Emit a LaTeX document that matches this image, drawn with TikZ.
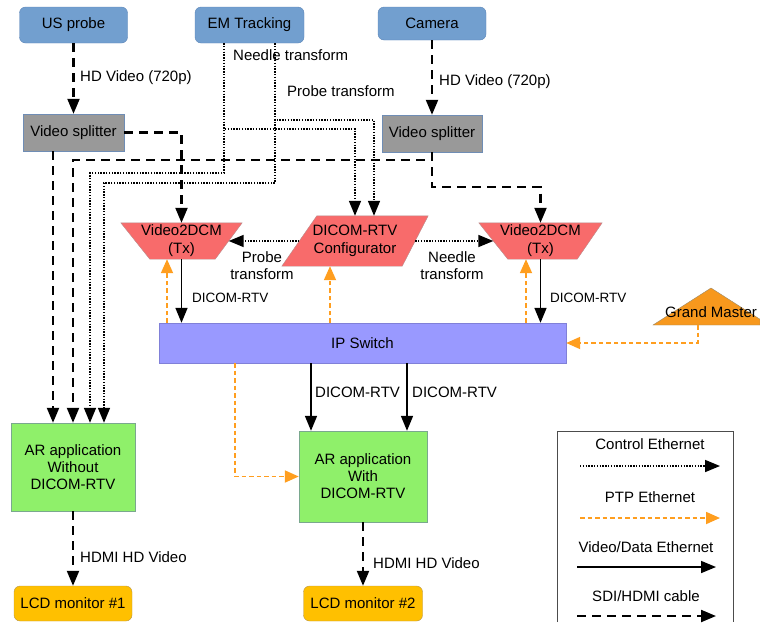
\documentclass[tikz,border=0pt]{standalone}
\usepackage{fontspec}
\setmainfont{Liberation Sans}
\usetikzlibrary{arrows.meta,backgrounds,calc}
\definecolor{srcfill}{HTML}{729FCF}
\definecolor{srcline}{HTML}{5D86B8}
\definecolor{grayfill}{HTML}{999999}
\definecolor{grayline}{HTML}{6F8DB5}
\definecolor{redfill}{HTML}{F86B6B}
\definecolor{redline}{HTML}{B88C8C}
\definecolor{ipfill}{HTML}{9999FF}
\definecolor{ipline}{HTML}{8080D8}
\definecolor{greenfill}{HTML}{8FF06A}
\definecolor{greenline}{HTML}{7AA88E}
\definecolor{lcdfill}{HTML}{FFC000}
\definecolor{lcdline}{HTML}{B8964A}
\definecolor{gmfill}{HTML}{F7981D}
\definecolor{gmline}{HTML}{9A8A6A}
\definecolor{ptp}{HTML}{FF9E1F}
\begin{document}
\begin{tikzpicture}[x=1pt,y=-1pt,
  font=\fontsize{15}{17}\selectfont,
  tip/.style={-{Triangle[length=15pt,width=12pt]}},
  hdmi/.style={tip,draw=black,line width=2.2pt,dash pattern=on 9pt off 6pt},
  ctrl/.style={tip,draw=black,line width=1.6pt,dash pattern=on 1.4pt off 1.4pt},
  ptpline/.style={-{Triangle[length=14pt,width=12pt,fill=ptp]},draw=ptp,line width=1.8pt,dash pattern=on 4.5pt off 3pt},
  vid/.style={tip,draw=black,line width=1.6pt},
  srcbox/.style={draw=srcline,fill=srcfill,rounded corners=6pt,inner sep=0pt,minimum width=108pt,minimum height=36pt},
  splitbox/.style={draw=grayline,fill=grayfill,inner sep=0pt,minimum width=101pt,minimum height=37pt},
  appbox/.style={draw=greenline,fill=greenfill,inner sep=0pt,align=center},
  lcdbox/.style={draw=lcdline,fill=lcdfill,rounded corners=6pt,inner sep=0pt,minimum width=118pt,minimum height=35pt},
  shapetxt/.style={inner sep=0pt,align=center,font=\fontsize{15}{18}\selectfont},
  polyred/.style={draw=redline,fill=redfill},
  lbl/.style={inner sep=0pt,anchor=west},
  smalllbl/.style={inner sep=0pt,anchor=west,font=\fontsize{13.5}{16}\selectfont},
  legtxt/.style={inner sep=0pt}
]
\useasboundingbox (0,0) rectangle (760,622);

% sources
\node[srcbox] (us) at (73.5,25) {US probe};
\node[srcbox,minimum width=109pt] (em) at (249.5,25) {EM Tracking};
\node[srcbox,minimum height=33pt] (cam) at (432,23.5) {Camera};

% splitters
\node[splitbox] (sp1) at (73.5,132.5) {Video splitter};
\node[splitbox,minimum width=100pt] (sp2) at (432,133.5) {Video splitter};

% Video2DCM and configurator
\node[shapetxt,minimum width=121pt,minimum height=36pt] (v2l) at (181.5,241) {Video2DCM\\(Tx)};
\node[shapetxt,minimum width=123pt,minimum height=36pt] (v2r) at (540.5,241) {Video2DCM\\(Tx)};
\node[shapetxt,minimum width=146pt,minimum height=50pt] (cfg) at (355,241) {DICOM-RTV\\Configurator};
\begin{scope}[on background layer]
  \draw[polyred] (v2l.north west) -- (v2l.north east) -- ([xshift=-27pt]v2l.south east) -- ([xshift=29pt]v2l.south west) -- cycle;
  \draw[polyred] (v2r.north west) -- (v2r.north east) -- ([xshift=-25pt]v2r.south east) -- ([xshift=29pt]v2r.south west) -- cycle;
  \draw[polyred] ([xshift=35pt]cfg.north west) -- (cfg.north east) -- ([xshift=-26pt]cfg.south east) -- (cfg.south west) -- cycle;
\end{scope}

% IP switch
\node[draw=ipline,fill=ipfill,inner sep=0pt,minimum width=407pt,minimum height=40pt] (ip) at (362.5,343) {IP Switch};

% Grand master
\fill[gmfill,draw=gmline] (653,325) -- (711,288) -- (760,319.3) -- (760,325) -- cycle;
\node[inner sep=0pt,minimum height=26pt] (gm) at (711,312) {Grand Master};

% AR applications
\node[appbox,minimum width=124pt,minimum height=88pt] (ar1) at (73,467) {AR application\\Without\\DICOM-RTV};
\node[appbox,minimum width=128pt,minimum height=91pt] (ar2) at (363,476.5) {AR application\\With\\DICOM-RTV};

% LCD monitors
\node[lcdbox] (lcd1) at (73,603.5) {LCD monitor \#1};
\node[lcdbox,minimum width=119pt] (lcd2) at (363,603.5) {LCD monitor \#2};

% helper coordinates
\coordinate (emN) at ([xshift=-25.5pt]em.south);
\coordinate (emP) at ([xshift=25.5pt]em.south);
\coordinate (a1) at ([xshift=-20pt]ar1.north);
\coordinate (a2) at (ar1.north);
\coordinate (a3) at ([xshift=17pt]ar1.north);
\coordinate (a4) at ([xshift=31pt]ar1.north);
\coordinate (cfgN2) at ([xshift=19pt]cfg.north);
\coordinate (b1) at ([xshift=-52pt]ar2.north);
\coordinate (b2) at ([xshift=44pt]ar2.north);
\coordinate (pA) at ([xshift=-14.5pt]v2l.south);
\coordinate (pB) at ([xshift=-25pt]cfg.south);
\coordinate (pR) at ([xshift=-14.5pt]v2r.south);
\coordinate (pC) at (235,0);
\coordinate (gmb) at ([xshift=-13pt]gm.south);

% video cables
\draw[hdmi] (us.south) -- (sp1.north);
\draw[hdmi] (cam.south) -- (sp2.north);
\draw[hdmi] (sp1.east) -| (v2l.north);
\draw[hdmi] (sp1.south -| a1) -- (a1);
\draw[hdmi] (sp2.south) |- (a2 |- 0,160) -- (a2);
\draw[hdmi] (sp2.south) |- (v2r.north |- 0,187) -- (v2r.north);
\draw[hdmi] (ar1.south) -- (lcd1.north);
\draw[hdmi] (ar2.south) -- (lcd2.north);

% control
\draw[ctrl] (emN) |- (cfg.north |- 0,129) -- (cfg.north);
\draw[ctrl] (emP) |- (cfgN2 |- 0,120) -- (cfgN2);
\draw[ctrl] (emN) |- (a3 |- 0,173) -- (a3);
\draw[ctrl] (emP) |- (a4 |- 0,183) -- (a4);
\draw[ctrl] ([xshift=17.5pt]cfg.west) -- ([xshift=-13.5pt]v2l.east);
\draw[ctrl] ([xshift=-13pt]cfg.east) -- ([xshift=14.5pt]v2r.west);

% video/data ethernet
\draw[vid] (v2l.south) -- (v2l.south |- ip.north);
\draw[vid] (v2r.south) -- (v2r.south |- ip.north);
\draw[vid] (b1 |- ip.south) -- (b1);
\draw[vid] (b2 |- ip.south) -- (b2);

% PTP
\draw[ptpline] (pA |- ip.north) -- (pA);
\draw[ptpline] (pB |- ip.north) -- (pB);
\draw[ptpline] (pR |- ip.north) -- (pR);
\draw[ptpline] (gmb) |- (ip.east);
\draw[ptpline] (ip.south -| pC) |- (ar2.west);

% labels
\node[lbl] (lhd1) at (80,78) {HD Video (720p)};
\node[lbl] (lhd2) at (439,82) {HD Video (720p)};
\node[lbl] (lneedle) at (233,55) {Needle transform};
\node[lbl] (lprobe) at (287,91) {Probe transform};
\node[shapetxt,font=\fontsize{15}{17}\selectfont] (lprobe2) at (262,265.5) {Probe\\transform};
\node[shapetxt,font=\fontsize{15}{17}\selectfont] (lneedle2) at (452,265.5) {Needle\\transform};
\node[smalllbl] (ld1) at (192,298) {DICOM-RTV};
\node[smalllbl] (ld2) at (550,298) {DICOM-RTV};
\node[lbl] (ld3) at (315,392) {DICOM-RTV};
\node[lbl] (ld4) at (412,392) {DICOM-RTV};
\node[lbl] (lhdmi1) at (80,557) {HDMI HD Video};
\node[lbl] (lhdmi2) at (373,563) {HDMI HD Video};

% legend
\draw[line width=0.8pt,draw=black!70] (557,622) -- (557,431) -- (733,431) -- (733,622);
\node[legtxt] (lg1) at (650,444) {Control Ethernet};
\node[legtxt] (lg2) at (650,497) {PTP Ethernet};
\node[legtxt] (lg3) at (646,547) {Video/Data Ethernet};
\node[legtxt] (lg4) at (646,596) {SDI/HDMI cable};
\coordinate (l1s) at (580,466); \coordinate (l1e) at (720,466);
\coordinate (l2s) at (580,518); \coordinate (l2e) at (720,518);
\coordinate (l3s) at (577,567); \coordinate (l3e) at (716,567);
\coordinate (l4s) at (577,616); \coordinate (l4e) at (716,616);
\draw[ctrl] (l1s) -- (l1e);
\draw[ptpline] (l2s) -- (l2e);
\draw[vid] (l3s) -- (l3e);
\draw[hdmi] (l4s) -- (l4e);
\end{tikzpicture}
\end{document}
